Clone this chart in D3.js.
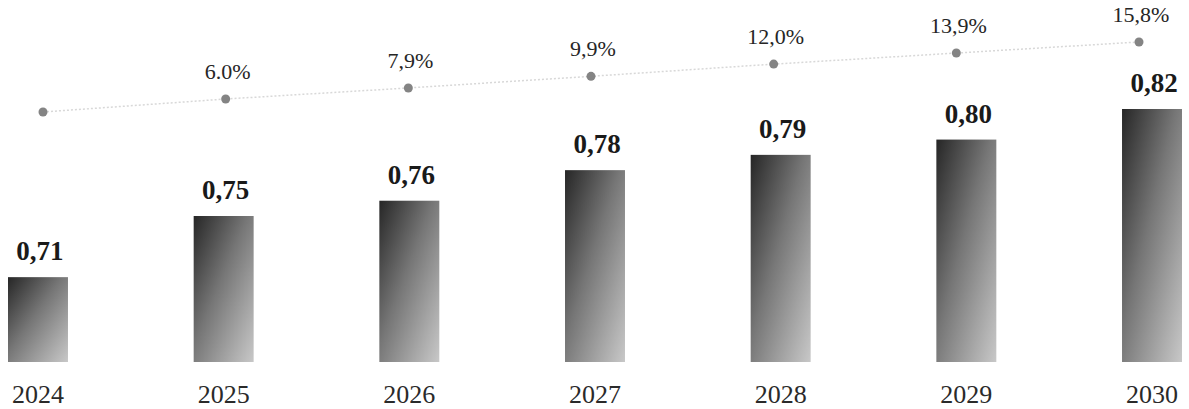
<!DOCTYPE html>
<html>
<head>
<meta charset="utf-8">
<script src="https://cdn.jsdelivr.net/npm/d3@7/dist/d3.min.js"></script>
<style>
  html, body { margin: 0; padding: 0; background: #fff; }
  .value { font-family: "Liberation Serif", "DejaVu Serif", serif; font-weight: bold; font-size: 27px; fill: #1a1a1a; }
  .pct { font-family: "Liberation Serif", "DejaVu Serif", serif; font-size: 22px; fill: #262626; }
  .year { font-family: "Liberation Serif", "DejaVu Serif", serif; font-size: 26px; fill: #2a2a2a; }
</style>
</head>
<body>
<div id="chart"></div>
<script>
var years = ["2024", "2025", "2026", "2027", "2028", "2029", "2030"];
var values = [0.71, 0.75, 0.76, 0.78, 0.79, 0.80, 0.82];
var growth = [0, 6.0, 7.9, 9.9, 12.0, 13.9, 15.8];
var growthLabels = ["", "6.0%", "7,9%", "9,9%", "12,0%", "13,9%", "15,8%"];

(function () {
  "use strict";

  var width = 1189,
    height = 409,
    svg, defs, grad;

  var x = d3.scaleBand().domain(years).range([8, 1182]).paddingInner(0.677).paddingOuter(0);
  var y = d3.scaleLinear().domain([0.6545, 0.82]).range([362, 109]);
  var xDot = d3.scalePoint().domain(years).range([43, 1139]);
  var yDot = d3.scaleLinear().domain([0, 6, 15.8]).range([112, 99, 42]);

  svg = d3.select("#chart")
    .append("svg")
    .attr("width", width)
    .attr("height", height);

  svg.append("rect").attr("width", width).attr("height", height).attr("fill", "#fff");

  // Gradient Setting
  defs = svg.append("defs");
  grad = defs.append("linearGradient")
    .attr("id", "barGrad")
    .attr("x1", 0).attr("y1", 0)
    .attr("x2", 1).attr("y2", 1);
  grad.append("stop").attr("offset", "0%").attr("stop-color", "#262626");
  grad.append("stop").attr("offset", "45%").attr("stop-color", "#767676");
  grad.append("stop").attr("offset", "100%").attr("stop-color", "#c8c8c8");

  // Bar Setting
  svg.selectAll("rect.bar")
    .data(values)
    .enter()
    .append("rect")
    .attr("class", "bar")
    .attr("x", function (d, i) { return x(years[i]); })
    .attr("y", function (d) { return y(d); })
    .attr("width", x.bandwidth())
    .attr("height", function (d) { return y.range()[0] - y(d); })
    .attr("fill", "url(#barGrad)");

  // Value Text
  svg.selectAll("text.value")
    .data(values)
    .enter()
    .append("text")
    .attr("class", "value")
    .attr("text-anchor", "middle")
    .attr("x", function (d, i) { return x(years[i]) + x.bandwidth() / 2 + 2; })
    .attr("y", function (d) { return y(d) - 17; })
    .text(function (d) { return d3.format(".2f")(d).replace(".", ","); });

  // Year Text
  svg.selectAll("text.year")
    .data(years)
    .enter()
    .append("text")
    .attr("class", "year")
    .attr("text-anchor", "middle")
    .attr("x", function (d) { return x(d) + x.bandwidth() / 2; })
    .attr("y", 403)
    .text(function (d) { return d; });

  // Growth Line
  var line = d3.line()
    .x(function (d, i) { return xDot(years[i]); })
    .y(function (d) { return yDot(d); });

  svg.append("path")
    .datum(growth)
    .attr("d", line)
    .attr("fill", "none")
    .attr("stroke", "#d8d8d8")
    .attr("stroke-width", 1.5)
    .attr("stroke-dasharray", "2,2");

  // Growth Dots
  svg.selectAll("circle.dot")
    .data(growth)
    .enter()
    .append("circle")
    .attr("class", "dot")
    .attr("cx", function (d, i) { return xDot(years[i]); })
    .attr("cy", function (d) { return yDot(d); })
    .attr("r", 4.5)
    .attr("fill", "#848484");

  // Growth Text
  svg.selectAll("text.pct")
    .data(growth)
    .enter()
    .append("text")
    .attr("class", "pct")
    .attr("text-anchor", "middle")
    .attr("x", function (d, i) { return xDot(years[i]) + 2; })
    .attr("y", function (d) { return yDot(d) - 20; })
    .text(function (d, i) { return growthLabels[i]; });
}());
</script>
</body>
</html>
